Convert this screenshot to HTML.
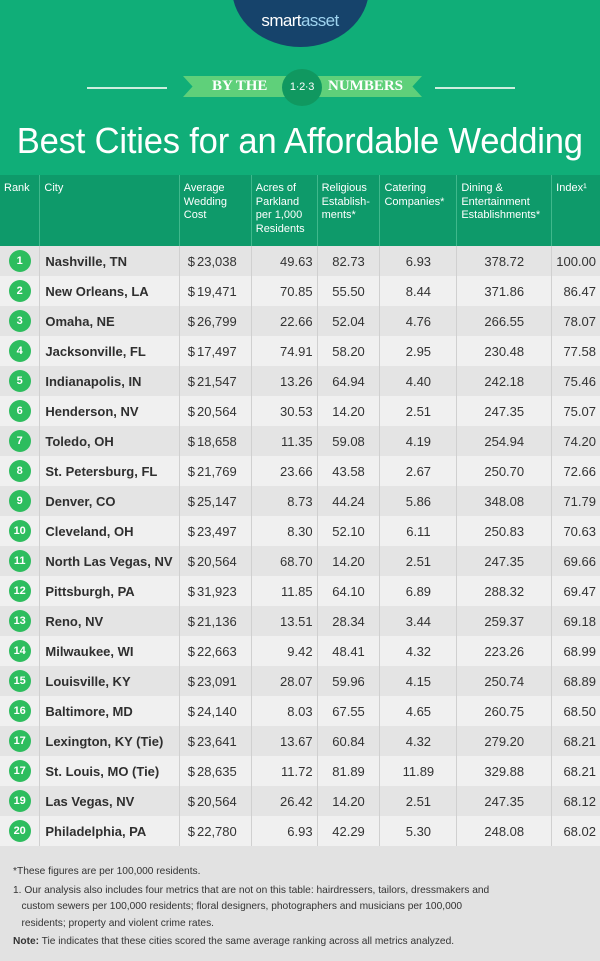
<!DOCTYPE html>
<html><head><meta charset="utf-8"><style>
*{margin:0;padding:0;box-sizing:border-box}
body{width:600px;height:961px;background:#e2e2e2;font-family:"Liberation Sans",sans-serif;position:relative;overflow:hidden}
#top{position:absolute;left:0;top:0;width:600px;height:175px;background:#10ae78}
#logo{position:absolute;left:232px;top:-70px;width:137px;height:117px;border-radius:50%;background:#16436b}
#logotxt{position:absolute;left:0;width:600px;top:11px;text-align:center;color:#fff;font-size:17px;letter-spacing:-0.6px}
.line{position:absolute;top:87px;height:2px;background:#cdeede}
#ban{position:absolute;left:183px;top:76px;width:239px;height:21px;background:#5fd07a;clip-path:polygon(0 0,100% 0,96% 50%,100% 100%,0 100%,4% 50%)}
#bantxt{position:absolute;top:78px;left:0;width:600px;font-family:"Liberation Serif",serif;font-weight:bold;font-size:15px;color:#fff}
#badge{position:absolute;left:282px;top:69px;width:40px;height:37px;border-radius:50%;background:#109860;color:#fff;font-size:11px;text-align:center;line-height:37px;letter-spacing:-0.3px}
#title{position:absolute;top:120px;left:0;width:600px;text-align:center;white-space:nowrap}
#title span{display:inline-block;color:#fff;font-size:36px;font-family:"Liberation Sans",sans-serif;transform:scaleX(0.96);letter-spacing:-0.2px}
table{position:absolute;left:0;top:175px;border-collapse:collapse;width:600px}
th{background:#0e9a6a;color:#fff;font-weight:normal;font-size:11px;text-align:left;vertical-align:top;padding:7px 0 0 4px;height:71px;line-height:13.5px;border-left:1px solid #3fb88c}
th:first-child{border-left:none}
td{height:30px;font-size:13px;color:#333;border-left:1px solid #d0d0d0;padding:0 4px;text-align:center}
td:first-child{border-left:none}
tr.o td{background:#e4e4e4}tr.e td{background:#f0f0f0}
td.c{font-weight:bold;text-align:left;padding-left:5px;color:#2f2f2f}
td.r{text-align:right;padding-right:4px}
.n{display:inline-block;width:22px;height:22px;border-radius:50%;background:#2dbd5e;color:#fff;font-weight:bold;font-size:11px;line-height:22px;text-align:center}
.cost{display:flex;justify-content:space-between;padding:0 10px 0 4px}
#foot{position:absolute;left:13px;top:864px;font-size:10.2px;color:#333;line-height:16.5px}
</style></head><body>
<div id="top"></div>
<div id="logo"></div><div id="logotxt">smart<span style="color:#9fd4f0">asset</span></div>
<div class="line" style="left:87px;width:80px"></div><div class="line" style="left:435px;width:80px"></div>
<div id="ban"></div>
<div id="bantxt"><span style="position:absolute;left:212px">BY THE</span><span style="position:absolute;left:328px">NUMBERS</span></div>
<div id="badge">1·2·3</div>
<div id="title"><span>Best Cities for an Affordable Wedding</span></div>
<table>
<colgroup><col style="width:40px"><col style="width:140px"><col style="width:72px"><col style="width:66px"><col style="width:63px"><col style="width:77px"><col style="width:95px"><col style="width:47px"></colgroup>
<tr><th>Rank</th><th>City</th><th>Average<br>Wedding<br>Cost</th><th>Acres of<br>Parkland<br>per 1,000<br>Residents</th><th>Religious<br>Establish-<br>ments*</th><th>Catering<br>Companies*</th><th>Dining &amp;<br>Entertainment<br>Establishments*</th><th>Index¹</th></tr>
<tr class="o"><td><span class="n">1</span></td><td class="c">Nashville, TN</td><td><div class="cost"><span>$</span><span>23,038</span></div></td><td class="r">49.63</td><td>82.73</td><td>6.93</td><td>378.72</td><td class="r">100.00</td></tr>
<tr class="e"><td><span class="n">2</span></td><td class="c">New Orleans, LA</td><td><div class="cost"><span>$</span><span>19,471</span></div></td><td class="r">70.85</td><td>55.50</td><td>8.44</td><td>371.86</td><td class="r">86.47</td></tr>
<tr class="o"><td><span class="n">3</span></td><td class="c">Omaha, NE</td><td><div class="cost"><span>$</span><span>26,799</span></div></td><td class="r">22.66</td><td>52.04</td><td>4.76</td><td>266.55</td><td class="r">78.07</td></tr>
<tr class="e"><td><span class="n">4</span></td><td class="c">Jacksonville, FL</td><td><div class="cost"><span>$</span><span>17,497</span></div></td><td class="r">74.91</td><td>58.20</td><td>2.95</td><td>230.48</td><td class="r">77.58</td></tr>
<tr class="o"><td><span class="n">5</span></td><td class="c">Indianapolis, IN</td><td><div class="cost"><span>$</span><span>21,547</span></div></td><td class="r">13.26</td><td>64.94</td><td>4.40</td><td>242.18</td><td class="r">75.46</td></tr>
<tr class="e"><td><span class="n">6</span></td><td class="c">Henderson, NV</td><td><div class="cost"><span>$</span><span>20,564</span></div></td><td class="r">30.53</td><td>14.20</td><td>2.51</td><td>247.35</td><td class="r">75.07</td></tr>
<tr class="o"><td><span class="n">7</span></td><td class="c">Toledo, OH</td><td><div class="cost"><span>$</span><span>18,658</span></div></td><td class="r">11.35</td><td>59.08</td><td>4.19</td><td>254.94</td><td class="r">74.20</td></tr>
<tr class="e"><td><span class="n">8</span></td><td class="c">St. Petersburg, FL</td><td><div class="cost"><span>$</span><span>21,769</span></div></td><td class="r">23.66</td><td>43.58</td><td>2.67</td><td>250.70</td><td class="r">72.66</td></tr>
<tr class="o"><td><span class="n">9</span></td><td class="c">Denver, CO</td><td><div class="cost"><span>$</span><span>25,147</span></div></td><td class="r">8.73</td><td>44.24</td><td>5.86</td><td>348.08</td><td class="r">71.79</td></tr>
<tr class="e"><td><span class="n">10</span></td><td class="c">Cleveland, OH</td><td><div class="cost"><span>$</span><span>23,497</span></div></td><td class="r">8.30</td><td>52.10</td><td>6.11</td><td>250.83</td><td class="r">70.63</td></tr>
<tr class="o"><td><span class="n">11</span></td><td class="c">North Las Vegas, NV</td><td><div class="cost"><span>$</span><span>20,564</span></div></td><td class="r">68.70</td><td>14.20</td><td>2.51</td><td>247.35</td><td class="r">69.66</td></tr>
<tr class="e"><td><span class="n">12</span></td><td class="c">Pittsburgh, PA</td><td><div class="cost"><span>$</span><span>31,923</span></div></td><td class="r">11.85</td><td>64.10</td><td>6.89</td><td>288.32</td><td class="r">69.47</td></tr>
<tr class="o"><td><span class="n">13</span></td><td class="c">Reno, NV</td><td><div class="cost"><span>$</span><span>21,136</span></div></td><td class="r">13.51</td><td>28.34</td><td>3.44</td><td>259.37</td><td class="r">69.18</td></tr>
<tr class="e"><td><span class="n">14</span></td><td class="c">Milwaukee, WI</td><td><div class="cost"><span>$</span><span>22,663</span></div></td><td class="r">9.42</td><td>48.41</td><td>4.32</td><td>223.26</td><td class="r">68.99</td></tr>
<tr class="o"><td><span class="n">15</span></td><td class="c">Louisville, KY</td><td><div class="cost"><span>$</span><span>23,091</span></div></td><td class="r">28.07</td><td>59.96</td><td>4.15</td><td>250.74</td><td class="r">68.89</td></tr>
<tr class="e"><td><span class="n">16</span></td><td class="c">Baltimore, MD</td><td><div class="cost"><span>$</span><span>24,140</span></div></td><td class="r">8.03</td><td>67.55</td><td>4.65</td><td>260.75</td><td class="r">68.50</td></tr>
<tr class="o"><td><span class="n">17</span></td><td class="c">Lexington, KY (Tie)</td><td><div class="cost"><span>$</span><span>23,641</span></div></td><td class="r">13.67</td><td>60.84</td><td>4.32</td><td>279.20</td><td class="r">68.21</td></tr>
<tr class="e"><td><span class="n">17</span></td><td class="c">St. Louis, MO (Tie)</td><td><div class="cost"><span>$</span><span>28,635</span></div></td><td class="r">11.72</td><td>81.89</td><td>11.89</td><td>329.88</td><td class="r">68.21</td></tr>
<tr class="o"><td><span class="n">19</span></td><td class="c">Las Vegas, NV</td><td><div class="cost"><span>$</span><span>20,564</span></div></td><td class="r">26.42</td><td>14.20</td><td>2.51</td><td>247.35</td><td class="r">68.12</td></tr>
<tr class="e"><td><span class="n">20</span></td><td class="c">Philadelphia, PA</td><td><div class="cost"><span>$</span><span>22,780</span></div></td><td class="r">6.93</td><td>42.29</td><td>5.30</td><td>248.08</td><td class="r">68.02</td></tr>
</table>
<div id="foot">
<div>*These figures are per 100,000 residents.</div>
<div style="margin-top:2px">1. Our analysis also includes four metrics that are not on this table: hairdressers, tailors, dressmakers and<br>&nbsp;&nbsp;&nbsp;custom sewers per 100,000 residents; floral designers, photographers and musicians per 100,000<br>&nbsp;&nbsp;&nbsp;residents; property and violent crime rates.</div>
<div style="margin-top:2px"><b>Note:</b> Tie indicates that these cities scored the same average ranking across all metrics analyzed.</div>
</div>
</body></html>
